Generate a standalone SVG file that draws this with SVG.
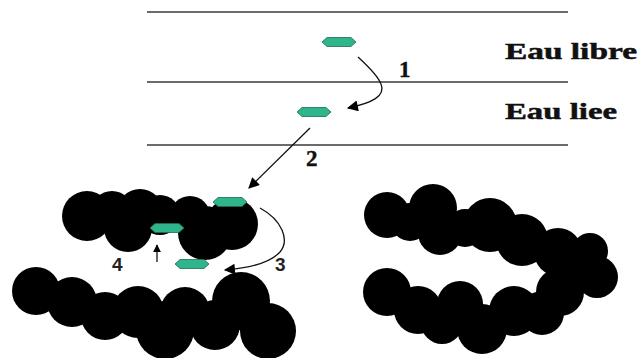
<svg xmlns="http://www.w3.org/2000/svg" width="643" height="358" viewBox="0 0 643 358">
  <style>
    .layer { stroke: #3a3a3a; stroke-width: 1.6; }
    .blob circle { fill: #000; }
    .mol { fill: #2fb48c; stroke: #1d6b53; stroke-width: 0.8; }
    .conn { fill: none; stroke: #111; stroke-width: 1.3; }
    .label { font-family: "Liberation Serif", "Times New Roman", serif; font-weight: bold; font-size: 23px; fill: #111; stroke: #111; stroke-width: 0.5; }
    .num { font-family: "Liberation Serif", "Times New Roman", serif; font-weight: bold; font-size: 23px; fill: #111; stroke: #111; stroke-width: 0.4; }
    .numsans { font-family: "Liberation Sans", Arial, sans-serif; font-weight: bold; font-size: 19px; fill: #222; }
  </style>
  <defs>
    <marker id="head" viewBox="0 0 10 10" refX="9" refY="5" markerWidth="8" markerHeight="8" orient="auto" markerUnits="userSpaceOnUse">
      <path d="M0,0 L10,5 L0,10 z" fill="#000"/>
    </marker>
    <marker id="headBig" viewBox="0 0 10 10" refX="9" refY="5" markerWidth="13" markerHeight="11" orient="auto" markerUnits="userSpaceOnUse">
      <path d="M0,0 L10,5 L0,10 z" fill="#000"/>
    </marker>
    <!-- water molecule: flattened octagon centred on the origin -->
    <path id="molShape" class="mol" d="M-17,0 L-12,-4.5 L12,-4.5 L17,0 L12,4.5 L-12,4.5 Z"/>
  </defs>
  <rect width="643" height="358" fill="#fff"/>

  <!-- water layers -->
  <g id="layers">
    <line class="layer" x1="147" y1="12" x2="568" y2="12"/>
    <line class="layer" x1="147" y1="82" x2="568" y2="82"/>
    <line class="layer" x1="147" y1="145" x2="568" y2="145"/>
  </g>

  <g id="label-libre">
    <text class="label" x="505" y="59" textLength="132" lengthAdjust="spacingAndGlyphs">Eau libre</text>
  </g>
  <g id="label-liee">
    <text class="label" x="505" y="119" textLength="112" lengthAdjust="spacingAndGlyphs">Eau liee</text>
  </g>

  <!-- left particle aggregate, upper part -->
  <g id="aggregate-upper" class="blob">
    <circle cx="87" cy="216" r="25"/>
    <circle cx="140" cy="212" r="23"/>
    <circle cx="128" cy="228" r="24"/>
    <circle cx="112" cy="212" r="21"/>
    <circle cx="160" cy="215" r="20"/>
    <circle cx="190" cy="216" r="20"/>
    <circle cx="205" cy="233" r="27"/>
    <circle cx="232" cy="224" r="26"/>
  </g>

  <!-- left particle aggregate, lower part -->
  <g id="aggregate-lower" class="blob">
    <circle cx="36" cy="291" r="24"/>
    <circle cx="72" cy="302" r="25"/>
    <circle cx="105" cy="316" r="24"/>
    <circle cx="138" cy="312" r="26"/>
    <circle cx="185" cy="312" r="25"/>
    <circle cx="165" cy="330" r="29"/>
    <circle cx="215" cy="325" r="25"/>
    <circle cx="241" cy="301" r="29"/>
    <circle cx="268" cy="331" r="28"/>
  </g>

  <!-- right particle aggregate -->
  <g id="aggregate-right" class="blob">
    <circle cx="387" cy="215" r="23"/>
    <circle cx="410" cy="222" r="19"/>
    <circle cx="433" cy="208" r="24"/>
    <circle cx="440" cy="233" r="22"/>
    <circle cx="465" cy="228" r="19"/>
    <circle cx="490" cy="225" r="27"/>
    <circle cx="522" cy="240" r="26"/>
    <circle cx="558" cy="252" r="24"/>
    <circle cx="590" cy="251" r="18"/>
    <circle cx="597" cy="277" r="21"/>
    <circle cx="575" cy="272" r="20"/>
    <circle cx="560" cy="292" r="24"/>
    <circle cx="387" cy="292" r="24"/>
    <circle cx="418" cy="310" r="24"/>
    <circle cx="460" cy="304" r="23"/>
    <circle cx="442" cy="323" r="21"/>
    <circle cx="482" cy="329" r="25"/>
    <circle cx="514" cy="311" r="25"/>
    <circle cx="542" cy="313" r="22"/>
  </g>

  <!-- water molecules -->
  <g id="mol-free"><use href="#molShape" x="339" y="42"/></g>
  <g id="mol-bound"><use href="#molShape" x="314" y="112"/></g>
  <g id="mol-surface"><use href="#molShape" x="230" y="202"/></g>
  <g id="mol-pore"><use href="#molShape" x="167" y="228"/></g>
  <g id="mol-gap"><use href="#molShape" x="192" y="264"/></g>

  <!-- transfer steps -->
  <g id="connectors">
    <path class="conn" d="M358,57 C370,68 378,76 381,84 C386,96 372,103 348,108" marker-end="url(#headBig)"/>
    <path class="conn" d="M310,128 L249,188" marker-end="url(#headBig)"/>
    <path class="conn" d="M260,208 C282,220 290,240 280,252 C270,263 250,268 225,270" marker-end="url(#headBig)"/>
    <path class="conn" d="M157,262 L157,245" marker-end="url(#head)"/>
  </g>

  <g id="step-labels">
    <text class="num" x="399" y="77">1</text>
    <text class="num" x="306" y="166">2</text>
    <text class="numsans" x="275" y="271">3</text>
    <text class="numsans" x="112" y="271">4</text>
  </g>
</svg>
